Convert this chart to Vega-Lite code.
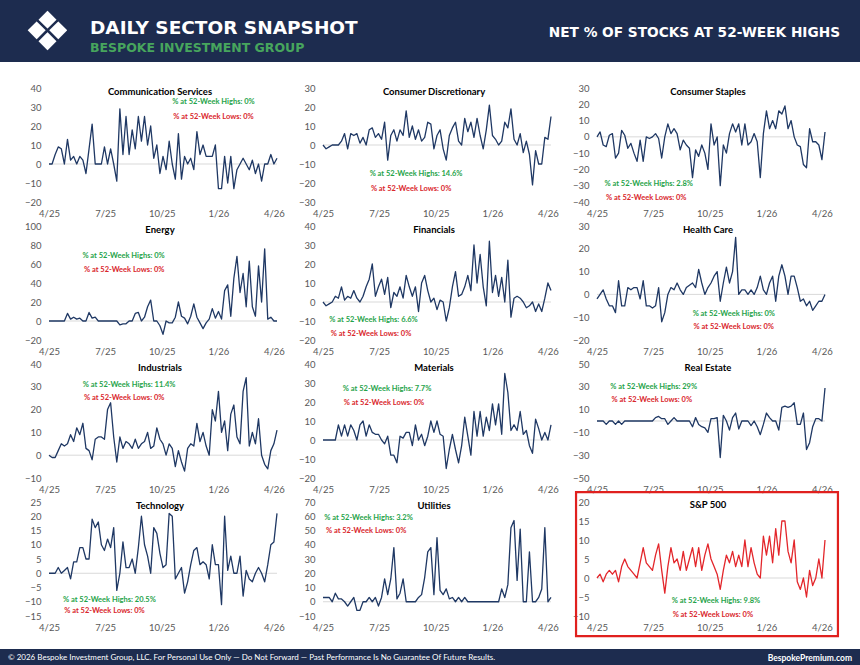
{
"$schema":"https://vega.github.io/schema/vega-lite/v6.json",
"padding":0,
"background":"white",
"datasets":{"s":[
{"d":"2025-04-07","cs":0,"cd":0,"st":0,"en":0,"fi":0,"hc":-2,"ind":0,"ma":0,"re":0,"te":0,"ut":3,"sp":0},
{"d":"2025-04-12","cs":0,"cd":-2,"st":3,"en":0,"fi":-2,"hc":0,"ind":-1,"ma":0,"re":0,"te":0,"ut":3,"sp":1},
{"d":"2025-04-17","cs":5,"cd":-1,"st":-5,"en":0,"fi":-1,"hc":2,"ind":-1,"ma":0,"re":0,"te":0,"ut":3,"sp":-1},
{"d":"2025-04-22","cs":9,"cd":0,"st":-6,"en":0,"fi":0,"hc":-2,"ind":2,"ma":0,"re":-3,"te":2,"ut":0,"sp":1},
{"d":"2025-04-27","cs":8,"cd":0,"st":1,"en":0,"fi":3,"hc":-5,"ind":5,"ma":0,"re":0,"te":0,"ut":6,"sp":2},
{"d":"2025-05-02","cs":0,"cd":0,"st":2,"en":0,"fi":2,"hc":-5,"ind":4,"ma":8,"re":0,"te":1,"ut":2,"sp":1},
{"d":"2025-05-07","cs":13,"cd":2,"st":-13,"en":8,"fi":8,"hc":-8,"ind":5,"ma":2,"re":-3,"te":2,"ut":2,"sp":2},
{"d":"2025-05-12","cs":2,"cd":6,"st":-10,"en":2,"fi":1,"hc":6,"ind":9,"ma":8,"re":0,"te":-2,"ut":0,"sp":-1},
{"d":"2025-05-17","cs":4,"cd":-2,"st":4,"en":4,"fi":3,"hc":-5,"ind":6,"ma":2,"re":-3,"te":4,"ut":-3,"sp":3},
{"d":"2025-05-22","cs":0,"cd":6,"st":1,"en":2,"fi":2,"hc":-5,"ind":12,"ma":8,"re":0,"te":4,"ut":0,"sp":5},
{"d":"2025-05-27","cs":4,"cd":5,"st":-7,"en":3,"fi":6,"hc":3,"ind":9,"ma":5,"re":0,"te":9,"ut":3,"sp":3},
{"d":"2025-06-01","cs":2,"cd":6,"st":-4,"en":0,"fi":2,"hc":2,"ind":14,"ma":0,"re":0,"te":9,"ut":-6,"sp":2},
{"d":"2025-06-06","cs":-5,"cd":1,"st":-10,"en":0,"fi":0,"hc":3,"ind":3,"ma":8,"re":0,"te":5,"ut":-6,"sp":1},
{"d":"2025-06-11","cs":8,"cd":4,"st":-15,"en":9,"fi":3,"hc":3,"ind":2,"ma":10,"re":0,"te":5,"ut":0,"sp":0},
{"d":"2025-06-16","cs":21,"cd":0,"st":-2,"en":3,"fi":8,"hc":-2,"ind":-2,"ma":2,"re":0,"te":19,"ut":0,"sp":4},
{"d":"2025-06-21","cs":0,"cd":8,"st":-15,"en":4,"fi":12,"hc":6,"ind":7,"ma":8,"re":0,"te":16,"ut":3,"sp":8},
{"d":"2025-06-26","cs":0,"cd":9,"st":0,"en":0,"fi":20,"hc":-5,"ind":8,"ma":4,"re":0,"te":18,"ut":0,"sp":4},
{"d":"2025-07-01","cs":0,"cd":4,"st":-1,"en":0,"fi":3,"hc":-5,"ind":8,"ma":3,"re":0,"te":10,"ut":3,"sp":3},
{"d":"2025-07-06","cs":9,"cd":6,"st":0,"en":0,"fi":8,"hc":-6,"ind":7,"ma":3,"re":0,"te":8,"ut":-3,"sp":2},
{"d":"2025-07-11","cs":0,"cd":3,"st":2,"en":0,"fi":12,"hc":-5,"ind":20,"ma":0,"re":3,"te":12,"ut":3,"sp":6},
{"d":"2025-07-16","cs":8,"cd":12,"st":-1,"en":0,"fi":4,"hc":3,"ind":23,"ma":-2,"re":4,"te":9,"ut":16,"sp":9},
{"d":"2025-07-21","cs":0,"cd":-8,"st":-13,"en":0,"fi":13,"hc":-12,"ind":8,"ma":2,"re":2,"te":16,"ut":5,"sp":2},
{"d":"2025-07-26","cs":-9,"cd":5,"st":0,"en":0,"fi":-3,"hc":-8,"ind":-3,"ma":-8,"re":2,"te":-6,"ut":16,"sp":-4},
{"d":"2025-07-31","cs":29,"cd":8,"st":8,"en":-4,"fi":5,"hc":0,"ind":8,"ma":-8,"re":-3,"te":0,"ut":38,"sp":3},
{"d":"2025-08-05","cs":5,"cd":2,"st":2,"en":-3,"fi":3,"hc":3,"ind":3,"ma":-12,"re":0,"te":11,"ut":2,"sp":8},
{"d":"2025-08-10","cs":25,"cd":8,"st":5,"en":-3,"fi":8,"hc":2,"ind":6,"ma":2,"re":3,"te":2,"ut":6,"sp":4},
{"d":"2025-08-15","cs":5,"cd":5,"st":2,"en":0,"fi":2,"hc":5,"ind":5,"ma":1,"re":0,"te":2,"ut":16,"sp":5},
{"d":"2025-08-20","cs":18,"cd":18,"st":-8,"en":0,"fi":14,"hc":2,"ind":3,"ma":4,"re":0,"te":5,"ut":0,"sp":2},
{"d":"2025-08-25","cs":8,"cd":4,"st":-2,"en":8,"fi":8,"hc":0,"ind":7,"ma":4,"re":0,"te":0,"ut":0,"sp":7},
{"d":"2025-08-30","cs":25,"cd":10,"st":-5,"en":9,"fi":3,"hc":3,"ind":3,"ma":-3,"re":0,"te":9,"ut":0,"sp":2},
{"d":"2025-09-04","cs":12,"cd":3,"st":-7,"en":0,"fi":8,"hc":4,"ind":5,"ma":8,"re":0,"te":20,"ut":0,"sp":5},
{"d":"2025-09-09","cs":25,"cd":8,"st":-25,"en":4,"fi":-5,"hc":5,"ind":6,"ma":0,"re":-5,"te":10,"ut":3,"sp":8},
{"d":"2025-09-14","cs":10,"cd":2,"st":-8,"en":15,"fi":10,"hc":3,"ind":10,"ma":3,"re":3,"te":6,"ut":5,"sp":3},
{"d":"2025-09-19","cs":20,"cd":4,"st":-12,"en":22,"fi":14,"hc":11,"ind":3,"ma":-3,"re":-3,"te":0,"ut":17,"sp":8},
{"d":"2025-09-24","cs":3,"cd":12,"st":-5,"en":0,"fi":6,"hc":5,"ind":4,"ma":2,"re":-5,"te":16,"ut":35,"sp":2},
{"d":"2025-09-29","cs":10,"cd":11,"st":-10,"en":0,"fi":0,"hc":0,"ind":12,"ma":10,"re":-6,"te":14,"ut":38,"sp":6},
{"d":"2025-10-04","cs":-5,"cd":-2,"st":-20,"en":-5,"fi":2,"hc":3,"ind":7,"ma":4,"re":-10,"te":7,"ut":5,"sp":9},
{"d":"2025-10-09","cs":4,"cd":5,"st":8,"en":-14,"fi":-4,"hc":5,"ind":5,"ma":10,"re":2,"te":2,"ut":45,"sp":5},
{"d":"2025-10-14","cs":-3,"cd":8,"st":-5,"en":0,"fi":1,"hc":8,"ind":0,"ma":3,"re":2,"te":3,"ut":8,"sp":3},
{"d":"2025-10-19","cs":12,"cd":-2,"st":0,"en":-2,"fi":0,"hc":10,"ind":5,"ma":2,"re":3,"te":21,"ut":5,"sp":1},
{"d":"2025-10-24","cs":0,"cd":-8,"st":-30,"en":-2,"fi":-10,"hc":-3,"ind":3,"ma":-15,"re":-32,"te":20,"ut":9,"sp":-3},
{"d":"2025-10-29","cs":-8,"cd":5,"st":-5,"en":4,"fi":-3,"hc":5,"ind":-5,"ma":-5,"re":5,"te":-2,"ut":2,"sp":2},
{"d":"2025-11-03","cs":16,"cd":9,"st":-10,"en":20,"fi":8,"hc":12,"ind":2,"ma":3,"re":0,"te":0,"ut":3,"sp":6},
{"d":"2025-11-08","cs":-8,"cd":12,"st":2,"en":5,"fi":16,"hc":5,"ind":-3,"ma":-5,"re":-8,"te":2,"ut":0,"sp":4},
{"d":"2025-11-13","cs":4,"cd":2,"st":8,"en":3,"fi":3,"hc":10,"ind":-7,"ma":-12,"re":3,"te":-7,"ut":3,"sp":7},
{"d":"2025-11-18","cs":0,"cd":0,"st":3,"en":-3,"fi":4,"hc":25,"ind":3,"ma":-3,"re":7,"te":-3,"ut":0,"sp":3},
{"d":"2025-11-23","cs":3,"cd":14,"st":8,"en":5,"fi":8,"hc":0,"ind":5,"ma":12,"re":-7,"te":3,"ut":3,"sp":6},
{"d":"2025-11-28","cs":-3,"cd":7,"st":-5,"en":18,"fi":14,"hc":2,"ind":4,"ma":2,"re":0,"te":8,"ut":0,"sp":3},
{"d":"2025-12-03","cs":17,"cd":12,"st":8,"en":4,"fi":6,"hc":2,"ind":14,"ma":-8,"re":0,"te":9,"ut":0,"sp":10},
{"d":"2025-12-08","cs":5,"cd":4,"st":-5,"en":-2,"fi":30,"hc":0,"ind":6,"ma":15,"re":0,"te":3,"ut":0,"sp":3},
{"d":"2025-12-13","cs":10,"cd":14,"st":-3,"en":-8,"fi":10,"hc":2,"ind":10,"ma":2,"re":-4,"te":4,"ut":0,"sp":8},
{"d":"2025-12-18","cs":4,"cd":5,"st":2,"en":-2,"fi":25,"hc":0,"ind":4,"ma":15,"re":0,"te":3,"ut":0,"sp":4},
{"d":"2025-12-23","cs":4,"cd":-2,"st":-3,"en":2,"fi":8,"hc":3,"ind":0,"ma":2,"re":-5,"te":-2,"ut":0,"sp":1},
{"d":"2025-12-28","cs":4,"cd":8,"st":-25,"en":13,"fi":-2,"hc":8,"ind":20,"ma":12,"re":-12,"te":10,"ut":0,"sp":0},
{"d":"2026-01-02","cs":10,"cd":21,"st":2,"en":3,"fi":32,"hc":2,"ind":15,"ma":5,"re":-3,"te":3,"ut":0,"sp":11},
{"d":"2026-01-07","cs":-13,"cd":5,"st":16,"en":10,"fi":5,"hc":0,"ind":28,"ma":19,"re":7,"te":3,"ut":0,"sp":6},
{"d":"2026-01-12","cs":-13,"cd":3,"st":5,"en":2,"fi":14,"hc":5,"ind":10,"ma":8,"re":3,"te":-11,"ut":0,"sp":11},
{"d":"2026-01-17","cs":4,"cd":0,"st":10,"en":32,"fi":3,"hc":8,"ind":15,"ma":19,"re":0,"te":20,"ut":0,"sp":4},
{"d":"2026-01-22","cs":-10,"cd":2,"st":5,"en":38,"fi":13,"hc":-3,"ind":2,"ma":3,"re":0,"te":1,"ut":9,"sp":13},
{"d":"2026-01-27","cs":4,"cd":12,"st":16,"en":5,"fi":0,"hc":8,"ind":18,"ma":35,"re":-8,"te":6,"ut":3,"sp":6},
{"d":"2026-02-01","cs":-13,"cd":9,"st":14,"en":45,"fi":22,"hc":13,"ind":22,"ma":25,"re":12,"te":0,"ut":12,"sp":15},
{"d":"2026-02-06","cs":-3,"cd":19,"st":19,"en":68,"fi":-8,"hc":8,"ind":8,"ma":5,"re":13,"te":0,"ut":52,"sp":15},
{"d":"2026-02-11","cs":0,"cd":3,"st":5,"en":30,"fi":2,"hc":0,"ind":5,"ma":8,"re":12,"te":6,"ut":57,"sp":7},
{"d":"2026-02-16","cs":3,"cd":0,"st":10,"en":50,"fi":3,"hc":8,"ind":28,"ma":5,"re":13,"te":-8,"ut":15,"sp":4},
{"d":"2026-02-21","cs":0,"cd":6,"st":0,"en":15,"fi":2,"hc":8,"ind":34,"ma":15,"re":16,"te":1,"ut":51,"sp":10},
{"d":"2026-02-26","cs":-3,"cd":-4,"st":-5,"en":63,"fi":0,"hc":3,"ind":4,"ma":3,"re":-3,"te":-2,"ut":0,"sp":-1},
{"d":"2026-03-03","cs":2,"cd":2,"st":-6,"en":15,"fi":-3,"hc":-3,"ind":10,"ma":5,"re":-3,"te":-3,"ut":0,"sp":-3},
{"d":"2026-03-08","cs":-5,"cd":-5,"st":-17,"en":5,"fi":-2,"hc":-2,"ind":5,"ma":-3,"re":7,"te":0,"ut":35,"sp":0},
{"d":"2026-03-13","cs":0,"cd":-21,"st":-19,"en":58,"fi":0,"hc":-5,"ind":16,"ma":-7,"re":-25,"te":2,"ut":0,"sp":-5},
{"d":"2026-03-18","cs":-9,"cd":-3,"st":5,"en":20,"fi":-5,"hc":-3,"ind":0,"ma":11,"re":-19,"te":0,"ut":0,"sp":2},
{"d":"2026-03-23","cs":0,"cd":-10,"st":-3,"en":76,"fi":-1,"hc":-7,"ind":-4,"ma":6,"re":-5,"te":-3,"ut":3,"sp":-2},
{"d":"2026-03-28","cs":0,"cd":-10,"st":-3,"en":2,"fi":-5,"hc":-5,"ind":-6,"ma":0,"re":2,"te":3,"ut":9,"sp":0},
{"d":"2026-04-02","cs":5,"cd":4,"st":-5,"en":4,"fi":2,"hc":-3,"ind":2,"ma":4,"re":2,"te":10,"ut":52,"sp":5},
{"d":"2026-04-07","cs":0,"cd":3,"st":-14,"en":0,"fi":10,"hc":-3,"ind":5,"ma":0,"re":0,"te":11,"ut":0,"sp":0},
{"d":"2026-04-12","cs":3,"cd":15,"st":3,"en":0,"fi":6,"hc":0,"ind":11,"ma":8,"re":29,"te":21,"ut":3,"sp":10}
]},
"config":{
"font":"Lato",
"view":{"stroke":null},
"axis":{"domain":false,"ticks":false,"grid":false,"labelFontSize":9.5,"labelColor":"#595959","labelFont":"Lato"},
"axisX":{"labelPadding":6,"labelFlush":false,"labelOverlap":false,"tickCount":20},
"axisY":{"labelPadding":8,"labelOverlap":false,"tickCount":20},
"title":{"font":"Lato","fontSize":9.5,"fontWeight":"bold","color":"#000000"},
"text":{"font":"Lato","fontSize":7.5,"fontWeight":"bold"}
},
"vconcat":[
{"vconcat":[
{"hconcat":[
{"width":85,"height":62,"view":{"fill":"#1d2c4f","stroke":null},"data":{"values":[]},"mark":"text",
"title":{"text":"❖","color":"#ffffff","font":"DejaVu Sans","fontSize":54,"fontWeight":"normal","anchor":"middle","frame":"group","offset":-61,"dx":5}},
{"width":345,"height":62,"view":{"fill":"#1d2c4f","stroke":null},"data":{"values":[]},"mark":"text",
"title":{"text":"DAILY SECTOR SNAPSHOT","subtitle":"BESPOKE INVESTMENT GROUP","anchor":"start","frame":"group","dx":5,"offset":-54,"color":"#ffffff","font":"DejaVu Sans","fontSize":18.5,"fontWeight":"bold","subtitleColor":"#47a55d","subtitleFont":"DejaVu Sans","subtitleFontSize":12.5,"subtitleFontWeight":"bold","subtitlePadding":4}},
{"width":430,"height":62,"view":{"fill":"#1d2c4f","stroke":null},"data":{"values":[]},"mark":"text",
"title":{"text":"NET % OF STOCKS AT 52-WEEK HIGHS","anchor":"end","frame":"group","dx":-20,"offset":-40,"color":"#ffffff","font":"DejaVu Sans","fontSize":13.7,"fontWeight":"bold"}}
],"spacing":0},
{"hconcat":[
{"width":24,"height":1,"data":{"values":[]},"mark":"text"},
{"data":{"name":"s"},"columns":3,"spacing":{"row":24,"column":46},"bounds":"flush",
"concat":[
{"width":228,"height":114,"title":{"text":"Communication Services","offset":-13,"frame":"group","dx":-3},
"layer":[
{"data":{"values":[{}]},"mark":{"type":"rule","color":"#d9d9d9","strokeWidth":1},"encoding":{"y":{"datum":0,"type":"quantitative","scale":{"domain":[-20,40],"nice":false},"axis":{"values":[-20,-10,0,10,20,30,40],"tickCount":20,"title":null}}}},
{"mark":{"type":"line","color":"#1f3864","strokeWidth":1.3,"strokeJoin":"round"},"encoding":{
"x":{"field":"d","type":"temporal","scale":{"type":"utc","domain":[{"year":2025,"month":4,"date":7,"utc":true},{"year":2026,"month":4,"date":12,"utc":true}],"nice":false},"axis":{"values":[{"year":2025,"month":4,"date":7,"utc":true},{"year":2025,"month":7,"date":7,"utc":true},{"year":2025,"month":10,"date":7,"utc":true},{"year":2026,"month":1,"date":7,"utc":true},{"year":2026,"month":4,"date":7,"utc":true}],"format":"%-m/%y","title":null}},
"y":{"field":"cs","type":"quantitative","scale":{"domain":[-20,40],"nice":false},"axis":{"values":[-20,-10,0,10,20,30,40],"tickCount":20,"title":null}}}},
{"data":{"values":[{"t":"% at 52-Week Highs: 0%"}]},"mark":{"type":"text","color":"#1fa34a"},"encoding":{"x":{"datum":{"year":2025,"month":12,"date":30,"utc":true},"type":"temporal"},"y":{"datum":32.6,"type":"quantitative"},"text":{"field":"t"}}},
{"data":{"values":[{"t":"% at 52-Week Lows: 0%"}]},"mark":{"type":"text","color":"#d9262c"},"encoding":{"x":{"datum":{"year":2025,"month":12,"date":30,"utc":true},"type":"temporal"},"y":{"datum":24.6,"type":"quantitative"},"text":{"field":"t"}}}
]},
{"width":228,"height":114,"title":{"text":"Consumer Discretionary","offset":-13,"frame":"group","dx":-3},
"layer":[
{"data":{"values":[{}]},"mark":{"type":"rule","color":"#d9d9d9","strokeWidth":1},"encoding":{"y":{"datum":0,"type":"quantitative","scale":{"domain":[-30,30],"nice":false},"axis":{"values":[-30,-20,-10,0,10,20,30],"tickCount":20,"title":null}}}},
{"mark":{"type":"line","color":"#1f3864","strokeWidth":1.3,"strokeJoin":"round"},"encoding":{
"x":{"field":"d","type":"temporal","scale":{"type":"utc","domain":[{"year":2025,"month":4,"date":7,"utc":true},{"year":2026,"month":4,"date":12,"utc":true}],"nice":false},"axis":{"values":[{"year":2025,"month":4,"date":7,"utc":true},{"year":2025,"month":7,"date":7,"utc":true},{"year":2025,"month":10,"date":7,"utc":true},{"year":2026,"month":1,"date":7,"utc":true},{"year":2026,"month":4,"date":7,"utc":true}],"format":"%-m/%y","title":null}},
"y":{"field":"cd","type":"quantitative","scale":{"domain":[-30,30],"nice":false},"axis":{"values":[-30,-20,-10,0,10,20,30],"tickCount":20,"title":null}}}},
{"data":{"values":[{"t":"% at 52-Week Highs: 14.6%"}]},"mark":{"type":"text","color":"#1fa34a"},"encoding":{"x":{"datum":{"year":2025,"month":9,"date":5,"utc":true},"type":"temporal"},"y":{"datum":-15.4,"type":"quantitative"},"text":{"field":"t"}}},
{"data":{"values":[{"t":"% at 52-Week Lows: 0%"}]},"mark":{"type":"text","color":"#d9262c"},"encoding":{"x":{"datum":{"year":2025,"month":8,"date":28,"utc":true},"type":"temporal"},"y":{"datum":-23,"type":"quantitative"},"text":{"field":"t"}}}
]},
{"width":228,"height":114,"title":{"text":"Consumer Staples","offset":-13,"frame":"group","dx":-3},
"layer":[
{"data":{"values":[{}]},"mark":{"type":"rule","color":"#d9d9d9","strokeWidth":1},"encoding":{"y":{"datum":0,"type":"quantitative","scale":{"domain":[-40,30],"nice":false},"axis":{"values":[-40,-30,-20,-10,0,10,20,30],"tickCount":20,"title":null}}}},
{"mark":{"type":"line","color":"#1f3864","strokeWidth":1.3,"strokeJoin":"round"},"encoding":{
"x":{"field":"d","type":"temporal","scale":{"type":"utc","domain":[{"year":2025,"month":4,"date":7,"utc":true},{"year":2026,"month":4,"date":12,"utc":true}],"nice":false},"axis":{"values":[{"year":2025,"month":4,"date":7,"utc":true},{"year":2025,"month":7,"date":7,"utc":true},{"year":2025,"month":10,"date":7,"utc":true},{"year":2026,"month":1,"date":7,"utc":true},{"year":2026,"month":4,"date":7,"utc":true}],"format":"%-m/%y","title":null}},
"y":{"field":"st","type":"quantitative","scale":{"domain":[-40,30],"nice":false},"axis":{"values":[-40,-30,-20,-10,0,10,20,30],"tickCount":20,"title":null}}}},
{"data":{"values":[{"t":"% at 52-Week Highs: 2.8%"}]},"mark":{"type":"text","color":"#1fa34a"},"encoding":{"x":{"datum":{"year":2025,"month":6,"date":30,"utc":true},"type":"temporal"},"y":{"datum":-29.2,"type":"quantitative"},"text":{"field":"t"}}},
{"data":{"values":[{"t":"% at 52-Week Lows: 0%"}]},"mark":{"type":"text","color":"#d9262c"},"encoding":{"x":{"datum":{"year":2025,"month":6,"date":26,"utc":true},"type":"temporal"},"y":{"datum":-37.7,"type":"quantitative"},"text":{"field":"t"}}}
]},
{"width":228,"height":114,"title":{"text":"Energy","offset":-13,"frame":"group","dx":-3},
"layer":[
{"data":{"values":[{}]},"mark":{"type":"rule","color":"#d9d9d9","strokeWidth":1},"encoding":{"y":{"datum":0,"type":"quantitative","scale":{"domain":[-20,100],"nice":false},"axis":{"values":[-20,0,20,40,60,80,100],"tickCount":20,"title":null}}}},
{"mark":{"type":"line","color":"#1f3864","strokeWidth":1.3,"strokeJoin":"round"},"encoding":{
"x":{"field":"d","type":"temporal","scale":{"type":"utc","domain":[{"year":2025,"month":4,"date":7,"utc":true},{"year":2026,"month":4,"date":12,"utc":true}],"nice":false},"axis":{"values":[{"year":2025,"month":4,"date":7,"utc":true},{"year":2025,"month":7,"date":7,"utc":true},{"year":2025,"month":10,"date":7,"utc":true},{"year":2026,"month":1,"date":7,"utc":true},{"year":2026,"month":4,"date":7,"utc":true}],"format":"%-m/%y","title":null}},
"y":{"field":"en","type":"quantitative","scale":{"domain":[-20,100],"nice":false},"axis":{"values":[-20,0,20,40,60,80,100],"tickCount":20,"title":null}}}},
{"data":{"values":[{"t":"% at 52-Week Highs: 0%"}]},"mark":{"type":"text","color":"#1fa34a"},"encoding":{"x":{"datum":{"year":2025,"month":8,"date":6,"utc":true},"type":"temporal"},"y":{"datum":68.6,"type":"quantitative"},"text":{"field":"t"}}},
{"data":{"values":[{"t":"% at 52-Week Lows: 0%"}]},"mark":{"type":"text","color":"#d9262c"},"encoding":{"x":{"datum":{"year":2025,"month":8,"date":7,"utc":true},"type":"temporal"},"y":{"datum":53.2,"type":"quantitative"},"text":{"field":"t"}}}
]},
{"width":228,"height":114,"title":{"text":"Financials","offset":-13,"frame":"group","dx":-3},
"layer":[
{"data":{"values":[{}]},"mark":{"type":"rule","color":"#d9d9d9","strokeWidth":1},"encoding":{"y":{"datum":0,"type":"quantitative","scale":{"domain":[-20,40],"nice":false},"axis":{"values":[-20,-10,0,10,20,30,40],"tickCount":20,"title":null}}}},
{"mark":{"type":"line","color":"#1f3864","strokeWidth":1.3,"strokeJoin":"round"},"encoding":{
"x":{"field":"d","type":"temporal","scale":{"type":"utc","domain":[{"year":2025,"month":4,"date":7,"utc":true},{"year":2026,"month":4,"date":12,"utc":true}],"nice":false},"axis":{"values":[{"year":2025,"month":4,"date":7,"utc":true},{"year":2025,"month":7,"date":7,"utc":true},{"year":2025,"month":10,"date":7,"utc":true},{"year":2026,"month":1,"date":7,"utc":true},{"year":2026,"month":4,"date":7,"utc":true}],"format":"%-m/%y","title":null}},
"y":{"field":"fi","type":"quantitative","scale":{"domain":[-20,40],"nice":false},"axis":{"values":[-20,-10,0,10,20,30,40],"tickCount":20,"title":null}}}},
{"data":{"values":[{"t":"% at 52-Week Highs: 6.6%"}]},"mark":{"type":"text","color":"#1fa34a"},"encoding":{"x":{"datum":{"year":2025,"month":6,"date":28,"utc":true},"type":"temporal"},"y":{"datum":-9.6,"type":"quantitative"},"text":{"field":"t"}}},
{"data":{"values":[{"t":"% at 52-Week Lows: 0%"}]},"mark":{"type":"text","color":"#d9262c"},"encoding":{"x":{"datum":{"year":2025,"month":6,"date":24,"utc":true},"type":"temporal"},"y":{"datum":-17,"type":"quantitative"},"text":{"field":"t"}}}
]},
{"width":228,"height":114,"title":{"text":"Health Care","offset":-13,"frame":"group","dx":-3},
"layer":[
{"data":{"values":[{}]},"mark":{"type":"rule","color":"#d9d9d9","strokeWidth":1},"encoding":{"y":{"datum":0,"type":"quantitative","scale":{"domain":[-20,30],"nice":false},"axis":{"values":[-20,-10,0,10,20,30],"tickCount":20,"title":null}}}},
{"mark":{"type":"line","color":"#1f3864","strokeWidth":1.3,"strokeJoin":"round"},"encoding":{
"x":{"field":"d","type":"temporal","scale":{"type":"utc","domain":[{"year":2025,"month":4,"date":7,"utc":true},{"year":2026,"month":4,"date":12,"utc":true}],"nice":false},"axis":{"values":[{"year":2025,"month":4,"date":7,"utc":true},{"year":2025,"month":7,"date":7,"utc":true},{"year":2025,"month":10,"date":7,"utc":true},{"year":2026,"month":1,"date":7,"utc":true},{"year":2026,"month":4,"date":7,"utc":true}],"format":"%-m/%y","title":null}},
"y":{"field":"hc","type":"quantitative","scale":{"domain":[-20,30],"nice":false},"axis":{"values":[-20,-10,0,10,20,30],"tickCount":20,"title":null}}}},
{"data":{"values":[{"t":"% at 52-Week Highs: 0%"}]},"mark":{"type":"text","color":"#1fa34a"},"encoding":{"x":{"datum":{"year":2025,"month":11,"date":15,"utc":true},"type":"temporal"},"y":{"datum":-8.5,"type":"quantitative"},"text":{"field":"t"}}},
{"data":{"values":[{"t":"% at 52-Week Lows: 0%"}]},"mark":{"type":"text","color":"#d9262c"},"encoding":{"x":{"datum":{"year":2025,"month":11,"date":15,"utc":true},"type":"temporal"},"y":{"datum":-14.2,"type":"quantitative"},"text":{"field":"t"}}}
]},
{"width":228,"height":114,"title":{"text":"Industrials","offset":-13,"frame":"group","dx":-3},
"layer":[
{"data":{"values":[{}]},"mark":{"type":"rule","color":"#d9d9d9","strokeWidth":1},"encoding":{"y":{"datum":0,"type":"quantitative","scale":{"domain":[-10,40],"nice":false},"axis":{"values":[-10,0,10,20,30,40],"tickCount":20,"title":null}}}},
{"mark":{"type":"line","color":"#1f3864","strokeWidth":1.3,"strokeJoin":"round"},"encoding":{
"x":{"field":"d","type":"temporal","scale":{"type":"utc","domain":[{"year":2025,"month":4,"date":7,"utc":true},{"year":2026,"month":4,"date":12,"utc":true}],"nice":false},"axis":{"values":[{"year":2025,"month":4,"date":7,"utc":true},{"year":2025,"month":7,"date":7,"utc":true},{"year":2025,"month":10,"date":7,"utc":true},{"year":2026,"month":1,"date":7,"utc":true},{"year":2026,"month":4,"date":7,"utc":true}],"format":"%-m/%y","title":null}},
"y":{"field":"ind","type":"quantitative","scale":{"domain":[-10,40],"nice":false},"axis":{"values":[-10,0,10,20,30,40],"tickCount":20,"title":null}}}},
{"data":{"values":[{"t":"% at 52-Week Highs: 11.4%"}]},"mark":{"type":"text","color":"#1fa34a"},"encoding":{"x":{"datum":{"year":2025,"month":8,"date":15,"utc":true},"type":"temporal"},"y":{"datum":31,"type":"quantitative"},"text":{"field":"t"}}},
{"data":{"values":[{"t":"% at 52-Week Lows: 0%"}]},"mark":{"type":"text","color":"#d9262c"},"encoding":{"x":{"datum":{"year":2025,"month":8,"date":7,"utc":true},"type":"temporal"},"y":{"datum":24.9,"type":"quantitative"},"text":{"field":"t"}}}
]},
{"width":228,"height":114,"title":{"text":"Materials","offset":-13,"frame":"group","dx":-3},
"layer":[
{"data":{"values":[{}]},"mark":{"type":"rule","color":"#d9d9d9","strokeWidth":1},"encoding":{"y":{"datum":0,"type":"quantitative","scale":{"domain":[-20,40],"nice":false},"axis":{"values":[-20,-10,0,10,20,30,40],"tickCount":20,"title":null}}}},
{"mark":{"type":"line","color":"#1f3864","strokeWidth":1.3,"strokeJoin":"round"},"encoding":{
"x":{"field":"d","type":"temporal","scale":{"type":"utc","domain":[{"year":2025,"month":4,"date":7,"utc":true},{"year":2026,"month":4,"date":12,"utc":true}],"nice":false},"axis":{"values":[{"year":2025,"month":4,"date":7,"utc":true},{"year":2025,"month":7,"date":7,"utc":true},{"year":2025,"month":10,"date":7,"utc":true},{"year":2026,"month":1,"date":7,"utc":true},{"year":2026,"month":4,"date":7,"utc":true}],"format":"%-m/%y","title":null}},
"y":{"field":"ma","type":"quantitative","scale":{"domain":[-20,40],"nice":false},"axis":{"values":[-20,-10,0,10,20,30,40],"tickCount":20,"title":null}}}},
{"data":{"values":[{"t":"% at 52-Week Highs: 7.7%"}]},"mark":{"type":"text","color":"#1fa34a"},"encoding":{"x":{"datum":{"year":2025,"month":7,"date":20,"utc":true},"type":"temporal"},"y":{"datum":26.6,"type":"quantitative"},"text":{"field":"t"}}},
{"data":{"values":[{"t":"% at 52-Week Lows: 0%"}]},"mark":{"type":"text","color":"#d9262c"},"encoding":{"x":{"datum":{"year":2025,"month":7,"date":15,"utc":true},"type":"temporal"},"y":{"datum":19.3,"type":"quantitative"},"text":{"field":"t"}}}
]},
{"width":228,"height":114,"title":{"text":"Real Estate","offset":-13,"frame":"group","dx":-3},
"layer":[
{"data":{"values":[{}]},"mark":{"type":"rule","color":"#d9d9d9","strokeWidth":1},"encoding":{"y":{"datum":0,"type":"quantitative","scale":{"domain":[-50,50],"nice":false},"axis":{"values":[-50,-30,-10,10,30,50],"tickCount":20,"title":null}}}},
{"mark":{"type":"line","color":"#1f3864","strokeWidth":1.3,"strokeJoin":"round"},"encoding":{
"x":{"field":"d","type":"temporal","scale":{"type":"utc","domain":[{"year":2025,"month":4,"date":7,"utc":true},{"year":2026,"month":4,"date":12,"utc":true}],"nice":false},"axis":{"values":[{"year":2025,"month":4,"date":7,"utc":true},{"year":2025,"month":7,"date":7,"utc":true},{"year":2025,"month":10,"date":7,"utc":true},{"year":2026,"month":1,"date":7,"utc":true},{"year":2026,"month":4,"date":7,"utc":true}],"format":"%-m/%y","title":null}},
"y":{"field":"re","type":"quantitative","scale":{"domain":[-50,50],"nice":false},"axis":{"values":[-50,-30,-10,10,30,50],"tickCount":20,"title":null}}}},
{"data":{"values":[{"t":"% at 52-Week Highs: 29%"}]},"mark":{"type":"text","color":"#1fa34a"},"encoding":{"x":{"datum":{"year":2025,"month":7,"date":8,"utc":true},"type":"temporal"},"y":{"datum":30,"type":"quantitative"},"text":{"field":"t"}}},
{"data":{"values":[{"t":"% at 52-Week Lows: 0%"}]},"mark":{"type":"text","color":"#d9262c"},"encoding":{"x":{"datum":{"year":2025,"month":7,"date":5,"utc":true},"type":"temporal"},"y":{"datum":18.4,"type":"quantitative"},"text":{"field":"t"}}}
]},
{"width":228,"height":114,"title":{"text":"Technology","offset":-13,"frame":"group","dx":-3},
"layer":[
{"data":{"values":[{}]},"mark":{"type":"rule","color":"#d9d9d9","strokeWidth":1},"encoding":{"y":{"datum":0,"type":"quantitative","scale":{"domain":[-15,25],"nice":false},"axis":{"values":[-15,-10,-5,0,5,10,15,20,25],"tickCount":20,"title":null}}}},
{"mark":{"type":"line","color":"#1f3864","strokeWidth":1.3,"strokeJoin":"round"},"encoding":{
"x":{"field":"d","type":"temporal","scale":{"type":"utc","domain":[{"year":2025,"month":4,"date":7,"utc":true},{"year":2026,"month":4,"date":12,"utc":true}],"nice":false},"axis":{"values":[{"year":2025,"month":4,"date":7,"utc":true},{"year":2025,"month":7,"date":7,"utc":true},{"year":2025,"month":10,"date":7,"utc":true},{"year":2026,"month":1,"date":7,"utc":true},{"year":2026,"month":4,"date":7,"utc":true}],"format":"%-m/%y","title":null}},
"y":{"field":"te","type":"quantitative","scale":{"domain":[-15,25],"nice":false},"axis":{"values":[-15,-10,-5,0,5,10,15,20,25],"tickCount":20,"title":null}}}},
{"data":{"values":[{"t":"% at 52-Week Highs: 20.5%"}]},"mark":{"type":"text","color":"#1fa34a"},"encoding":{"x":{"datum":{"year":2025,"month":7,"date":14,"utc":true},"type":"temporal"},"y":{"datum":-9.3,"type":"quantitative"},"text":{"field":"t"}}},
{"data":{"values":[{"t":"% at 52-Week Lows: 0%"}]},"mark":{"type":"text","color":"#d9262c"},"encoding":{"x":{"datum":{"year":2025,"month":7,"date":6,"utc":true},"type":"temporal"},"y":{"datum":-13.1,"type":"quantitative"},"text":{"field":"t"}}}
]},
{"width":228,"height":114,"title":{"text":"Utilities","offset":-13,"frame":"group","dx":-3},
"layer":[
{"data":{"values":[{}]},"mark":{"type":"rule","color":"#d9d9d9","strokeWidth":1},"encoding":{"y":{"datum":0,"type":"quantitative","scale":{"domain":[-10,70],"nice":false},"axis":{"values":[-10,0,10,20,30,40,50,60,70],"tickCount":20,"title":null}}}},
{"mark":{"type":"line","color":"#1f3864","strokeWidth":1.3,"strokeJoin":"round"},"encoding":{
"x":{"field":"d","type":"temporal","scale":{"type":"utc","domain":[{"year":2025,"month":4,"date":7,"utc":true},{"year":2026,"month":4,"date":12,"utc":true}],"nice":false},"axis":{"values":[{"year":2025,"month":4,"date":7,"utc":true},{"year":2025,"month":7,"date":7,"utc":true},{"year":2025,"month":10,"date":7,"utc":true},{"year":2026,"month":1,"date":7,"utc":true},{"year":2026,"month":4,"date":7,"utc":true}],"format":"%-m/%y","title":null}},
"y":{"field":"ut","type":"quantitative","scale":{"domain":[-10,70],"nice":false},"axis":{"values":[-10,0,10,20,30,40,50,60,70],"tickCount":20,"title":null}}}},
{"data":{"values":[{"t":"% at 52-Week Highs: 3.2%"}]},"mark":{"type":"text","color":"#1fa34a"},"encoding":{"x":{"datum":{"year":2025,"month":6,"date":20,"utc":true},"type":"temporal"},"y":{"datum":59.1,"type":"quantitative"},"text":{"field":"t"}}},
{"data":{"values":[{"t":"% at 52-Week Lows: 0%"}]},"mark":{"type":"text","color":"#d9262c"},"encoding":{"x":{"datum":{"year":2025,"month":6,"date":16,"utc":true},"type":"temporal"},"y":{"datum":49.3,"type":"quantitative"},"text":{"field":"t"}}}
]},
{"width":228,"height":114,"title":{"text":"S&P 500","offset":-18,"frame":"group","dx":-3},
"layer":[
{"data":{"values":[{}]},"mark":{"type":"rule","color":"#d9d9d9","strokeWidth":1},"encoding":{"y":{"datum":0,"type":"quantitative","scale":{"domain":[-10,20],"nice":false},"axis":{"values":[-10,-5,0,5,10,15,20],"tickCount":20,"title":null}}}},
{"mark":{"type":"line","color":"#e3262b","strokeWidth":1.3,"strokeJoin":"round"},"encoding":{
"x":{"field":"d","type":"temporal","scale":{"type":"utc","domain":[{"year":2025,"month":4,"date":7,"utc":true},{"year":2026,"month":4,"date":12,"utc":true}],"nice":false},"axis":{"values":[{"year":2025,"month":4,"date":7,"utc":true},{"year":2025,"month":7,"date":7,"utc":true},{"year":2025,"month":10,"date":7,"utc":true},{"year":2026,"month":1,"date":7,"utc":true},{"year":2026,"month":4,"date":7,"utc":true}],"format":"%-m/%y","title":null}},
"y":{"field":"sp","type":"quantitative","scale":{"domain":[-10,20],"nice":false},"axis":{"values":[-10,-5,0,5,10,15,20],"tickCount":20,"title":null}}}},
{"data":{"values":[{"t":"% at 52-Week Highs: 9.8%"}]},"mark":{"type":"text","color":"#1fa34a"},"encoding":{"x":{"datum":{"year":2025,"month":10,"date":17,"utc":true},"type":"temporal"},"y":{"datum":-6.1,"type":"quantitative"},"text":{"field":"t"}}},
{"data":{"values":[{"t":"% at 52-Week Lows: 0%"}]},"mark":{"type":"text","color":"#d9262c"},"encoding":{"x":{"datum":{"year":2025,"month":10,"date":12,"utc":true},"type":"temporal"},"y":{"datum":-9.7,"type":"quantitative"},"text":{"field":"t"}}},
{"data":{"values":[{}]},"mark":{"type":"rect","filled":false,"stroke":"#e0201e","strokeWidth":2.2},"encoding":{"x":{"datum":{"year":2025,"month":3,"date":4,"utc":true},"type":"temporal"},"x2":{"datum":{"year":2026,"month":5,"date":3,"utc":true}},"y":{"datum":22.6,"type":"quantitative"},"y2":{"datum":-15.3}}}
]}
]}
],"spacing":0}
],"spacing":21},
{"hconcat":[
{"width":560,"height":17,"view":{"fill":"#1d2c4f","stroke":null},"data":{"values":[]},"mark":"text",
"title":{"text":"© 2026 Bespoke Investment Group, LLC. For Personal Use Only — Do Not Forward — Past Performance Is No Guarantee Of Future Results.","anchor":"start","frame":"group","dx":8,"offset":-13,"color":"#ffffff","font":"Lato","fontSize":8,"fontWeight":"normal"}},
{"width":300,"height":17,"view":{"fill":"#1d2c4f","stroke":null},"data":{"values":[]},"mark":"text",
"title":{"text":"BespokePremium.com","anchor":"end","frame":"group","dx":-8,"offset":-13,"color":"#ffffff","font":"Lato","fontSize":8.5,"fontWeight":"bold"}}
],"spacing":0}
],
"spacing":11
}
